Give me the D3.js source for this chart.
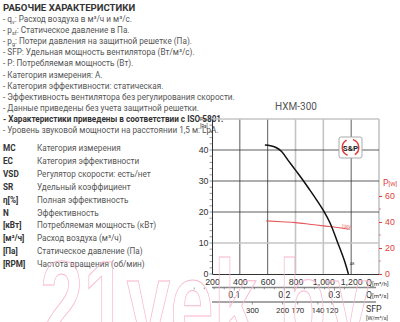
<!DOCTYPE html>
<html>
<head>
<meta charset="utf-8">
<script src="https://cdn.jsdelivr.net/npm/d3@7"></script>
<style>
  html, body { margin: 0; padding: 0; background: #fff; }
  svg { display: block; font-family: "Liberation Sans Narrow", Roboto, sans-serif; }
</style>
</head>
<body>
<svg id="chart" width="400" height="322"></svg>
<script>
// fan curve HXM-300 with info panel
const infoLines = [
  ["- q", "v", ": Расход воздуха в м³/ч и м³/с."],
  ["- p", "sf", ": Статическое давление в Па."],
  ["- p", "g", ": Потери давления на защитной решетке (Па)."],
  ["- SFP: Удельная мощность вентилятора (Вт/м³/с).", "", ""],
  ["- P: Потребляемая мощность (Вт).", "", ""],
  ["- Категория измерения: А.", "", ""],
  ["- Категория эффективности: статическая.", "", ""],
  ["- Эффективность вентилятора без регулирования скорости.", "", ""],
  ["- Данные приведены без учета защитной решетки.", "", ""],
  ["- Характеристики приведены в соответствии с ISO 5801.", "", ""],
  ["- Уровень звуковой мощности на расстоянии 1,5 м: LpA.", "", ""]
];
const keyCodes = ["MC", "EC", "VSD", "SR", "η[%]", "N", "[кВт]", "[м³/ч]", "[Па]", "[RPM]"];
const keyText = [
  "Категория измерения", "Категория эффективности", "Регулятор скорости: есть/нет",
  "Удельный коэффициент", "Полная эффективность", "Эффективность",
  "Потребляемая мощность (кВт)", "Расход воздуха (м³/ч)", "Статическое давление (Па)",
  "Частота вращения (об/мин)"
];

const qTicks = [200, 400, 600, 800, 1000, 1200];
const pTicks = [0, 10, 20, 30, 40];
const wTicks = [0, 20, 40, 60];
const qsTicks = [0.1, 0.2, 0.3];
const sfpTicks = [300, 200, 170, 140, 120];
const sfpAtQ = [490, 707, 816, 961, 1062];

const curveQ = [580, 620, 660, 700, 750, 800, 850, 900, 950, 1000, 1050, 1100, 1150, 1180];
const curveP = [41.6, 41.4, 40.8, 39.5, 36.5, 33.5, 30.5, 27.3, 24, 20.5, 16.3, 10.5, 4.5, 0];
const powerQ = [590, 700, 800, 900, 1000, 1100, 1190];
const powerW = [40.9, 40.2, 39.5, 38.3, 37, 35.8, 34.5];

const svg = d3.select("#chart");
svg.append("rect").attr("width", 400).attr("height", 322).attr("fill", "#fff");

// ---- left info panel
const info = svg.append("g");
info.append("text")
  .attr("x", 3).attr("y", 10.5)
  .attr("font-size", 9.6).attr("font-weight", "bold").attr("fill", "#333")
  .text("РАБОЧИЕ ХАРАКТЕРИСТИКИ");

info.selectAll("text.line")
  .data(infoLines)
  .join("text")
  .attr("class", "line")
  .attr("x", 3)
  .attr("y", (d, i) => 22 + i * 11.1)
  .attr("font-size", 8.2)
  .attr("fill", (d, i) => i === 9 ? "#333" : "#555")
  .attr("font-weight", (d, i) => i === 9 ? "bold" : "normal")
  .each(function(d) {
    const t = d3.select(this);
    t.append("tspan").text(d[0]);
    if (d[1]) {
      t.append("tspan").attr("font-size", 5.5).attr("dy", 1.5).text(d[1]);
      t.append("tspan").attr("dy", -1.5).text(d[2]);
    }
  });

const key = svg.append("g");
key.selectAll("text.code")
  .data(keyCodes)
  .join("text")
  .attr("class", "code")
  .attr("x", 3)
  .attr("y", (d, i) => 151 + i * 12.9)
  .attr("font-size", 8.2).attr("font-weight", "bold").attr("fill", "#333")
  .text(d => d);
key.selectAll("text.desc")
  .data(keyText)
  .join("text")
  .attr("class", "desc")
  .attr("x", 37)
  .attr("y", (d, i) => 151 + i * 12.9)
  .attr("font-size", 8.2).attr("fill", "#555")
  .text(d => d);

// ---- chart
const x = d3.scaleLinear().domain([200, 1400]).range([212, 379]);
const y = d3.scaleLinear().domain([0, 50]).range([274, 119]);
const yw = d3.scaleLinear().domain([0, 60]).range([274, 196]);
const red = "#e0403a";
const fs = 8.8;

svg.append("text")
  .attr("x", 296).attr("y", 110).attr("text-anchor", "middle")
  .attr("font-size", 10).attr("fill", "#555")
  .text("HXM-300");

const grid = svg.append("g");
const vLines = [400, 600, 800, 1000, 1200, 1400];
const vLight = [800, 1000, 1400];
grid.selectAll("line.v")
  .data(vLines)
  .join("line")
  .attr("x1", d => x(d)).attr("x2", d => x(d))
  .attr("y1", y(50)).attr("y2", y(0))
  .attr("stroke", d => vLight.includes(d) ? "#c4c4c4" : "#333")
  .attr("stroke-width", d => vLight.includes(d) ? 1.6 : 0.8);
const hLines = [10, 20, 30, 40, 50];
const hLight = [10, 50];
grid.selectAll("line.h")
  .data(hLines)
  .join("line")
  .attr("x1", x(200)).attr("x2", x(1400))
  .attr("y1", d => y(d)).attr("y2", d => y(d))
  .attr("stroke", d => hLight.includes(d) ? "#c4c4c4" : "#333")
  .attr("stroke-width", d => hLight.includes(d) ? 1.6 : 0.8);

// left axis
const yAxis = d3.axisLeft(y).tickValues(pTicks).tickSize(0).tickPadding(3.5);
const gy = svg.append("g").attr("transform", `translate(${x(200)},0)`).call(yAxis);
gy.select(".domain").attr("stroke", "#333").attr("stroke-width", 1);
gy.selectAll("text").attr("font-size", fs).attr("fill", "#333").attr("font-family", null);
gy.selectAll("line.minor")
  .data(d3.range(0, 51, 2))
  .join("line")
  .attr("class", "minor")
  .attr("x1", -2.5).attr("x2", 0)
  .attr("y1", d => y(d)).attr("y2", d => y(d))
  .attr("stroke", "#555").attr("stroke-width", 0.6);

svg.append("text").attr("x", 200).attr("y", 120.5).attr("font-size", 5.5).attr("fill", "#333")
  .call(t => {
    t.append("tspan").text("P");
    t.append("tspan").attr("font-size", 4).attr("dy", 0.8).text("sf");
  });
svg.append("text").attr("x", 200).attr("y", 127.5).attr("font-size", 4.5).attr("fill", "#333").text("[Pa]");

// bottom axis (m3/h)
const xAxis = d3.axisBottom(x).tickValues(qTicks).tickSize(0).tickPadding(4.5);
const gx = svg.append("g").attr("transform", `translate(0,${y(0)})`).call(xAxis);
gx.select(".domain").attr("stroke", "#333").attr("stroke-width", 1);
gx.selectAll("text").attr("font-size", fs).attr("fill", "#333").attr("font-family", null);
svg.append("text").attr("x", 366).attr("y", 286).attr("font-size", fs).attr("fill", "#333")
  .call(t => {
    t.append("tspan").text("Q");
    t.append("tspan").attr("font-size", 6).text("[m³/h]");
  });

// right axis (power)
const wAxis = d3.axisRight(yw).tickValues(wTicks).tickSize(3).tickPadding(3);
const gw = svg.append("g").attr("transform", `translate(${x(1400)},0)`).call(wAxis);
gw.select(".domain").remove();
gw.selectAll(".tick line").attr("stroke", red);
gw.selectAll("text").attr("font-size", fs).attr("fill", red).attr("font-family", null);
gw.selectAll("line.minor")
  .data(d3.range(10, 61, 20))
  .join("line")
  .attr("class", "minor")
  .attr("x1", 0).attr("x2", 2)
  .attr("y1", d => yw(d)).attr("y2", d => yw(d))
  .attr("stroke", red).attr("stroke-width", 0.6);
svg.append("text").attr("x", 383).attr("y", 186).attr("font-size", fs).attr("fill", red)
  .call(t => {
    t.append("tspan").text("P");
    t.append("tspan").attr("font-size", 6).text("[W]");
  });

// secondary scales: m3/s and SFP
const sec = svg.append("g");
const rowQs = 287.5, rowSfp = 302;
[rowQs, rowSfp].forEach(r => {
  sec.append("line").attr("x1", x(200)).attr("x2", 376).attr("y1", r).attr("y2", r)
    .attr("stroke", "#888").attr("stroke-width", 1.4);
});
sec.selectAll("line.qs")
  .data(d3.range(0.02, 0.33, 0.02))
  .join("line")
  .attr("class", "qs")
  .attr("x1", d => x(d * 3600)).attr("x2", d => x(d * 3600))
  .attr("y1", rowQs).attr("y2", d => rowQs + (qsTicks.some(v => Math.abs(v - d) < 1e-6) ? 3 : 1.8))
  .attr("stroke", "#555").attr("stroke-width", 0.6);
sec.selectAll("text.qs")
  .data(qsTicks)
  .join("text")
  .attr("class", "qs")
  .attr("x", d => x(d * 3600)).attr("y", 298)
  .attr("text-anchor", "middle")
  .attr("font-size", fs).attr("fill", "#333")
  .text(d => d.toFixed(1));
svg.append("text").attr("x", 366).attr("y", 298).attr("font-size", fs).attr("fill", "#333")
  .call(t => {
    t.append("tspan").text("Q");
    t.append("tspan").attr("font-size", 6).text("[m³/s]");
  });

sec.selectAll("line.sfp")
  .data(sfpAtQ)
  .join("line")
  .attr("class", "sfp")
  .attr("x1", d => x(d)).attr("x2", d => x(d))
  .attr("y1", rowSfp).attr("y2", rowSfp + 2.5)
  .attr("stroke", "#555").attr("stroke-width", 0.6);
sec.selectAll("text.sfp")
  .data(sfpTicks)
  .join("text")
  .attr("class", "sfp")
  .attr("x", (d, i) => x(sfpAtQ[i])).attr("y", 313)
  .attr("text-anchor", "middle")
  .attr("font-size", 8).attr("letter-spacing", -0.2).attr("fill", "#333")
  .text(d => d);
svg.append("text").attr("x", 366).attr("y", 312).attr("font-size", fs).attr("fill", "#333").text("SFP");
svg.append("text").attr("x", 366).attr("y", 320).attr("font-size", 5.5).attr("fill", "#333").text("[W/m³/s]");

// curves
const pressure = curveQ.map((q, i) => [q, curveP[i]]);
const power = powerQ.map((q, i) => [q, powerW[i]]);

svg.append("path")
  .datum(power)
  .attr("fill", "none").attr("stroke", "#e5575a").attr("stroke-width", 1.1)
  .attr("d", d3.line().x(d => x(d[0])).y(d => yw(d[1])).curve(d3.curveMonotoneX));
svg.append("text")
  .attr("transform", `translate(${x(1130)},${yw(35.9)}) rotate(6)`)
  .attr("font-size", 4).attr("fill", red).text("230V");

svg.append("path")
  .datum(pressure)
  .attr("fill", "none").attr("stroke", "#111").attr("stroke-width", 1.5)
  .attr("d", d3.line().x(d => x(d[0])).y(d => y(d[1])).curve(d3.curveCatmullRom));
svg.append("text")
  .attr("x", x(1190)).attr("y", y(3))
  .attr("font-size", 4).attr("fill", "#333").text("48");

// S&P logo
const logo = svg.append("g").attr("transform", "translate(350.5,147.5)");
logo.append("rect").attr("x", -11.5).attr("y", -10.5).attr("width", 23).attr("height", 21).attr("rx", 2)
  .attr("fill", "#fff").attr("stroke", "#aaa").attr("stroke-width", 1);
const arc = d3.arc().innerRadius(7.5).outerRadius(9);
logo.append("path").attr("d", arc({ startAngle: 0.3, endAngle: 2.6 })).attr("fill", red);
logo.append("path").attr("d", arc({ startAngle: 3.5, endAngle: 5.8 })).attr("fill", red);
logo.append("text").attr("text-anchor", "middle").attr("y", 3)
  .attr("font-size", 8).attr("font-weight", "bold").attr("fill", "#222")
  .text("S&P");

// watermark
svg.append("text")
  .attr("x", 40).attr("y", 345)
  .attr("font-size", 120).attr("font-weight", "bold")
  .attr("font-family", "Liberation Sans, Arial, sans-serif")
  .attr("textLength", 330).attr("lengthAdjust", "spacingAndGlyphs")
  .attr("fill", "none").attr("stroke", "#f7b8cc").attr("stroke-width", 1)
  .text("21vek.by");
</script>
</body>
</html>
